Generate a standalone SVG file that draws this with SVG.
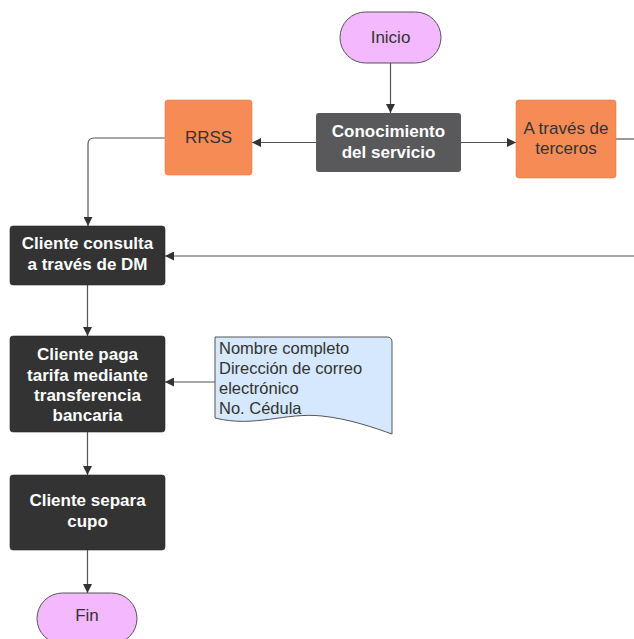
<svg xmlns="http://www.w3.org/2000/svg" width="634" height="639" viewBox="0 0 634 639">
<defs>
<style>
.t{font-family:"Liberation Sans",Arial,sans-serif;font-size:17px;}
.s{font-size:16.5px;}
.w{fill:#ffffff;font-weight:bold;text-anchor:middle;}
.d{fill:#333333;text-anchor:middle;}
.c{fill:none;stroke:#555555;stroke-width:1.2;}
.term{fill:#f3b8fd;stroke:#555555;stroke-width:1;}
.org{fill:#f68b56;stroke:#e07a48;stroke-width:0.6;}
.blk{fill:#333333;stroke:#2a2a2a;stroke-width:0.6;}
</style>
<marker id="ah" viewBox="0 0 10 10" refX="10" refY="5" markerWidth="9" markerHeight="9" markerUnits="userSpaceOnUse" orient="auto">
<path d="M0,0 L10,5 L0,10 z" fill="#333333"/>
</marker>
</defs>
<rect width="634" height="639" fill="#ffffff"/>
<g id="connectors">
<path class="c" d="M390.5,63 V113" marker-end="url(#ah)"/>
<path class="c" d="M461,142.5 H516" marker-end="url(#ah)"/>
<path class="c" d="M316,142.5 H252" marker-end="url(#ah)"/>
<path class="c" d="M616,139 H634"/>
<path class="c" d="M165,138 H94 Q88,138 88,144 V226" marker-end="url(#ah)"/>
<path class="c" d="M634,256 H165" marker-end="url(#ah)"/>
<path class="c" d="M87.5,285 V336" marker-end="url(#ah)"/>
<path class="c" d="M215,382 H165" marker-end="url(#ah)"/>
<path class="c" d="M87.5,432 V475" marker-end="url(#ah)"/>
<path class="c" d="M87.5,550 V593" marker-end="url(#ah)"/>
</g>
<g id="inicio">
<rect class="term" x="340" y="12" width="101" height="51" rx="25.5"/>
<text class="t d" x="390.5" y="43">Inicio</text>
</g>
<g id="conocimiento">
<rect x="316" y="113" width="145" height="59" rx="3" fill="#59595b"/>
<text class="t w" x="388.5" y="137">Conocimiento</text>
<text class="t w" x="388.5" y="158">del servicio</text>
</g>
<g id="terceros">
<rect class="org" x="516" y="100" width="100" height="78" rx="3"/>
<text class="t d" x="566" y="134">A través de</text>
<text class="t d" x="566" y="154">terceros</text>
</g>
<g id="rrss">
<rect class="org" x="165" y="100" width="87" height="75" rx="3"/>
<text class="t d" x="208.5" y="143">RRSS</text>
</g>
<g id="consulta">
<rect class="blk" x="10" y="226" width="155" height="59" rx="3"/>
<text class="t w" x="87.5" y="249">Cliente consulta</text>
<text class="t w" x="87.5" y="270">a través de DM</text>
</g>
<g id="paga">
<rect class="blk" x="10" y="336" width="155" height="96" rx="3"/>
<text class="t w" x="87.5" y="360">Cliente paga</text>
<text class="t w" x="87.5" y="381">tarifa mediante</text>
<text class="t w" x="87.5" y="401">transferencia</text>
<text class="t w" x="87.5" y="421">bancaria</text>
</g>
<g id="datos">
<path d="M215,337 H387 Q392,337 392,342 V434 C375,428 350,419 322,416 C285,412 255,428 215,418 Z" fill="#d5e8fd" stroke="#555555" stroke-width="1"/>
<text class="t s" fill="#333333" x="219" y="354">Nombre completo</text>
<text class="t s" fill="#333333" x="219" y="374">Dirección de correo</text>
<text class="t s" fill="#333333" x="219" y="394">electrónico</text>
<text class="t s" fill="#333333" x="219" y="414">No. Cédula</text>
</g>
<g id="separa">
<rect class="blk" x="10" y="475" width="155" height="75" rx="3"/>
<text class="t w" x="87.5" y="506">Cliente separa</text>
<text class="t w" x="87.5" y="527">cupo</text>
</g>
<g id="fin">
<rect class="term" x="37" y="593" width="100" height="51" rx="25.5"/>
<text class="t d" x="87" y="621">Fin</text>
</g>
</svg>
